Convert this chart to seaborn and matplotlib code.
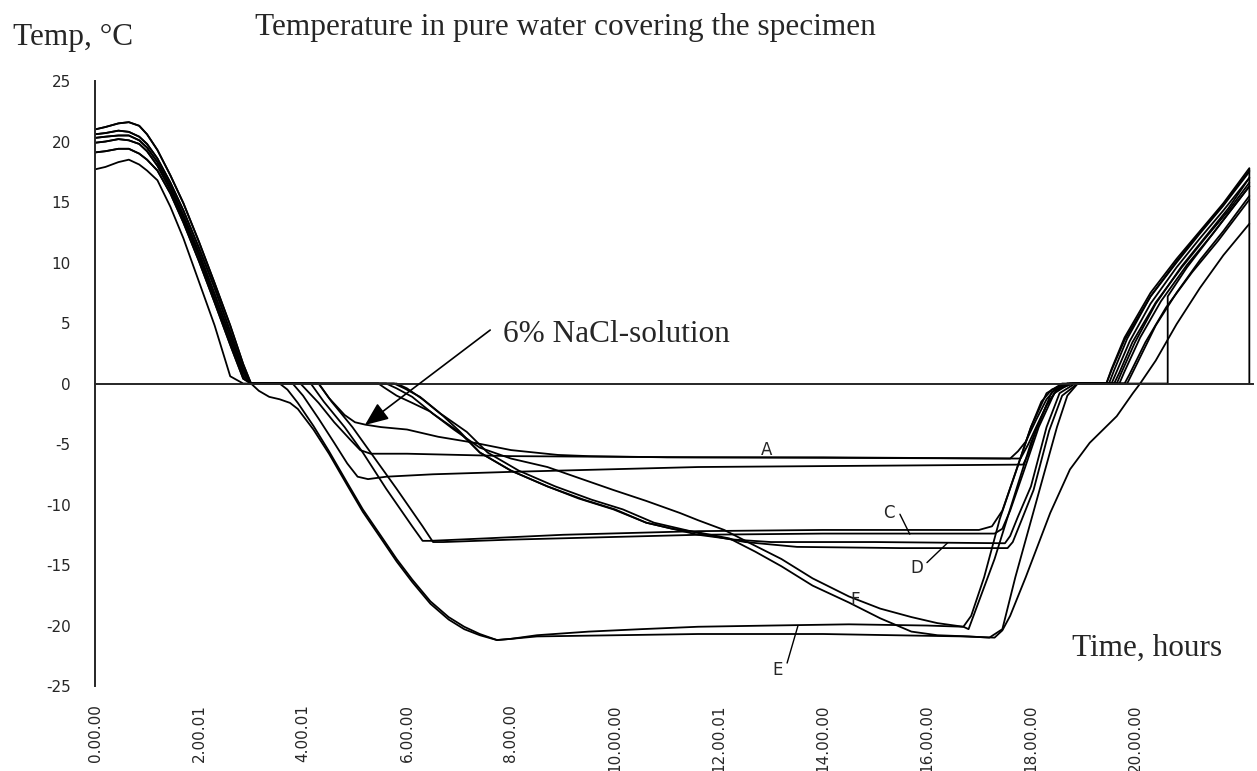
import matplotlib
matplotlib.use("Agg")
import matplotlib.pyplot as plt
import pandas as pd
import seaborn as sns

# --- start of every run (hours, degC): six slightly different warm starts ---
start_h = [0, 0.2, 0.45, 0.65, 0.85, 1.0, 1.2, 1.45, 1.7, 2.0, 2.3, 2.6, 2.85, 3.0]
s1_t = [21.0, 21.2, 21.5, 21.6, 21.3, 20.6, 19.3, 17.2, 14.9, 11.7, 8.3, 4.8, 1.6, 0.0]
s2_t = [20.6, 20.7, 20.9, 20.8, 20.4, 19.8, 18.6, 16.6, 14.3, 11.2, 7.9, 4.3, 1.2, 0.0]
s3_t = [20.3, 20.4, 20.5, 20.5, 20.1, 19.5, 18.3, 16.3, 13.9, 10.8, 7.4, 3.9, 0.9, 0.0]
s4_t = [19.9, 20.0, 20.2, 20.1, 19.8, 19.2, 18.0, 16.0, 13.6, 10.5, 7.0, 3.5, 0.6, 0.0]
s5_t = [19.1, 19.2, 19.4, 19.4, 19.0, 18.5, 17.6, 15.7, 13.3, 10.1, 6.7, 3.2, 0.4, 0.0]
s6_t = [17.7, 17.9, 18.3, 18.5, 18.1, 17.6, 16.8, 14.6, 12.0, 8.4, 4.8, 0.6, 0.0, 0.0]

# --- rest of each run after the first zero crossing ---
a1_h = [4.3, 4.5, 4.8, 5.0, 5.2, 5.5, 6.0, 6.6, 7.3, 8.0, 8.9, 9.5, 11.0, 14.0, 17.6, 17.75, 17.9,
        18.1, 18.3, 18.5, 18.75, 19.45, 19.55, 19.8, 20.3, 20.8, 21.25, 21.7, 22.2, 22.2]
a1_t = [0.0, -1.2, -2.6, -3.2, -3.4, -3.6, -3.8, -4.4, -4.9, -5.5, -5.9, -6.0, -6.1, -6.1, -6.2, -5.6, -4.8,
        -3.0, -1.3, -0.3, 0.0, 0.0, 1.2, 3.8, 7.5, 10.3, 12.6, 14.9, 17.8, 0.0]

a2_h = [3.95, 4.3, 4.6, 4.9, 5.1, 5.3, 6.0, 7.0, 8.0, 11.6, 17.8, 17.95, 18.1, 18.3, 18.5, 18.8,
        19.55, 19.65, 19.9, 20.3, 20.8, 21.25, 21.7, 22.2]
a2_t = [0.0, -1.6, -3.2, -4.6, -5.5, -5.8, -5.8, -5.9, -6.0, -6.1, -6.2, -5.0, -3.6, -1.8, -0.5, 0.0,
        0.0, 1.0, 3.5, 6.6, 9.6, 12.0, 14.3, 17.0]

b_h = [3.8, 4.0, 4.3, 4.6, 4.85, 5.05, 5.25, 5.6, 6.5, 8.0, 11.6, 17.85, 17.95, 18.1, 18.3, 18.5, 18.8,
       19.7, 19.8, 20.1, 20.5, 21.0, 21.5, 22.2]
b_t = [0.0, -1.0, -2.9, -4.9, -6.6, -7.7, -7.9, -7.7, -7.5, -7.3, -6.9, -6.7, -5.8, -3.8, -1.8, -0.5, 0.0,
       0.0, 1.0, 3.8, 6.8, 9.8, 12.4, 16.3]

c1_h = [4.15, 4.4, 4.8, 5.15, 5.6, 6.1, 6.3, 6.45, 7.5, 9.0, 11.6, 14.0, 17.0, 17.25, 17.45, 17.7,
        18.0, 18.3, 18.6, 19.45, 19.55, 19.8, 20.3, 20.8, 21.25, 21.7, 22.2]
c1_t = [0.0, -1.5, -3.6, -5.7, -8.7, -11.8, -13.0, -13.0, -12.8, -12.5, -12.2, -12.1, -12.1, -11.8, -10.5, -7.4,
        -3.6, -0.8, 0.0, 0.0, 1.1, 3.6, 7.2, 10.0, 12.4, 14.7, 17.5]

c2_h = [4.3, 4.55, 4.95, 5.3, 5.8, 6.3, 6.5, 6.7, 8.0, 11.6, 14.0, 17.3, 17.45, 17.6, 17.85, 18.15,
        18.45, 18.75, 19.6, 19.7, 19.95, 20.4, 20.9, 21.35, 21.8, 22.2]
c2_t = [0.0, -1.5, -3.6, -5.7, -8.7, -11.8, -13.1, -13.1, -12.9, -12.5, -12.4, -12.4, -12.0, -10.5, -7.4, -3.6,
        -0.8, 0.0, 0.0, 0.9, 3.4, 6.7, 9.6, 12.0, 14.3, 16.6]

d1_h = [5.6, 5.8, 6.1, 6.5, 7.0, 7.4, 8.0, 8.7, 9.4, 10.0, 10.6, 11.2, 11.6, 12.3, 13.0, 15.0, 17.5,
        17.6, 17.75, 18.0, 18.3, 18.55, 18.85, 19.8, 19.9, 20.2, 20.6, 21.1, 21.6, 22.2]
d1_t = [0.0, -0.4, -1.1, -2.5, -4.0, -5.7, -7.2, -8.5, -9.6, -10.4, -11.5, -12.1, -12.5, -12.9, -13.1, -13.1, -13.2,
        -12.6, -11.0, -8.5, -3.6, -0.8, 0.0, 0.0, 0.8, 3.4, 6.3, 9.2, 11.8, 15.2]

d2_h = [5.75, 5.95, 6.25, 6.65, 7.15, 7.55, 8.15, 8.85, 9.55, 10.15, 10.75, 11.35, 11.75, 12.5, 13.5, 15.5,
        17.55, 17.65, 17.8, 18.05, 18.35, 18.6, 18.9, 20.55, 20.63, 20.63, 21.0, 21.5, 22.2]
d2_t = [0.0, -0.4, -1.1, -2.5, -4.0, -5.7, -7.2, -8.5, -9.6, -10.4, -11.5, -12.1, -12.5, -13.1, -13.5, -13.6,
        -13.6, -13.1, -11.5, -8.8, -3.9, -1.0, 0.0, 0.0, 0.0, 7.2, 9.6, 12.4, 16.3]

e1_h = [3.55, 3.7, 3.9, 4.2, 4.5, 4.85, 5.15, 5.5, 5.8, 6.1, 6.45, 6.8, 7.1, 7.4, 7.73, 8.0, 8.5, 9.5,
        10.5, 11.6, 13.0, 14.5, 16.0, 16.7, 16.85, 17.1, 17.4, 17.7, 18.0, 18.2, 18.4, 18.7, 19.5, 19.6,
        19.85, 20.3, 20.8, 21.25, 21.7, 22.2]
e1_t = [0.0, -0.5, -1.6, -3.5, -5.6, -8.2, -10.4, -12.6, -14.5, -16.2, -18.0, -19.3, -20.1, -20.7, -21.2, -21.1, -20.8, -20.5,
        -20.3, -20.1, -20.0, -19.9, -20.0, -20.1, -19.2, -16.0, -11.2, -7.4, -3.6, -1.5, -0.5, 0.0, 0.0, 1.1,
        3.7, 7.2, 10.1, 12.5, 14.8, 17.6]

e2_h = [3.15, 3.35, 3.55, 3.75, 3.9, 4.2, 4.5, 4.85, 5.15, 5.5, 5.8, 6.1, 6.45, 6.8, 7.1, 7.4, 7.73, 8.0,
        8.5, 11.6, 14.0, 16.7, 17.3, 17.45, 17.6, 17.9, 18.37, 18.75, 19.13, 19.65, 19.96, 20.1, 20.4,
        20.8, 21.25, 21.7, 22.2]
e2_t = [-0.6, -1.1, -1.3, -1.6, -2.1, -3.8, -5.8, -8.4, -10.6, -12.8, -14.7, -16.4, -18.2, -19.5, -20.3, -20.8, -21.2, -21.1,
        -20.9, -20.7, -20.7, -20.9, -21.0, -20.4, -19.2, -16.0, -10.7, -7.1, -4.9, -2.7, -0.8, 0.0, 1.9,
        4.9, 7.9, 10.6, 13.2]

f1_h = [5.45, 5.55, 5.8, 6.1, 6.44, 6.9, 7.4, 8.0, 8.7, 9.3, 9.97, 10.6, 11.25, 11.6, 12.1, 12.6, 13.2,
        13.8, 14.5, 15.1, 15.7, 16.2, 16.7, 16.8, 17.3, 17.7, 18.0, 18.4, 18.7, 19.65, 19.75, 20.0, 20.4,
        20.9, 21.35, 21.8, 22.2]
f1_t = [0.0, -0.3, -1.0, -1.6, -2.3, -3.8, -5.3, -6.2, -6.9, -7.8, -8.8, -9.7, -10.7, -11.3, -12.1, -13.2, -14.5,
        -16.1, -17.6, -18.6, -19.3, -19.8, -20.1, -20.3, -14.5, -9.0, -4.9, -0.7, 0.0, 0.0, 1.0, 3.4, 6.6,
        9.7, 12.1, 14.5, 17.0]

f2_h = [5.8, 6.0, 6.3, 6.7, 7.0, 7.4, 8.0, 8.7, 9.3, 9.97, 10.6, 11.1, 11.6, 12.2, 12.7, 13.2, 13.8, 14.5,
        15.1, 15.7, 16.2, 16.8, 17.2, 17.45, 17.7, 18.1, 18.5, 18.7, 18.9, 19.85, 20.0, 20.4, 20.8, 21.25,
        21.7, 22.2]
f2_t = [0.0, -0.4, -1.3, -2.7, -3.9, -5.7, -7.2, -8.5, -9.5, -10.4, -11.5, -12.0, -12.3, -12.8, -13.9, -15.1, -16.7, -18.1,
        -19.4, -20.5, -20.8, -20.9, -21.0, -20.3, -16.0, -9.8, -3.6, -1.0, 0.0, 0.0, 1.3, 4.8, 7.5, 10.2,
        12.6, 15.5]

runs = {
    "A1": (s3_t, a1_h, a1_t), "A2": (s2_t, a2_h, a2_t), "B": (s4_t, b_h, b_t),
    "C1": (s1_t, c1_h, c1_t), "C2": (s5_t, c2_h, c2_t), "D1": (s3_t, d1_h, d1_t),
    "D2": (s1_t, d2_h, d2_t), "E1": (s2_t, e1_h, e1_t), "E2": (s6_t, e2_h, e2_t),
    "F1": (s4_t, f1_h, f1_t), "F2": (s5_t, f2_h, f2_t),
}

frames = []
for name, (st, rh, rt) in runs.items():
    frames.append(pd.DataFrame({"hours": start_h + rh, "temp": st + rt, "run": name}))
df = pd.concat(frames, ignore_index=True)

y_ticks = [-25, -20, -15, -10, -5, 0, 5, 10, 15, 20, 25]
label_hours = [0, 2, 4, 6, 8, 10, 12, 14, 16, 18, 20]
time_labels = ["0.00.00", "2.00.01", "4.00.01", "6.00.00", "8.00.00", "10.00.00",
               "12.00.01", "14.00.00", "16.00.00", "18.00.00", "20.00.00"]
zero_ticks = [2, 4, 6, 8, 10, 12, 14, 16, 18, 20, 22]

sns.set_style("white")
plt.rcParams["font.family"] = ["DejaVu Sans"]
plt.rcParams["axes.unicode_minus"] = False

fig = plt.figure(figsize=(12.57, 7.71), dpi=100)
ax = fig.add_axes([0.0756, 0.1102, 0.9212, 0.7847])

sns.lineplot(data=df, x="hours", y="temp", units="run", estimator=None, sort=False,
             color="black", linewidth=1.3, ax=ax)

ax.set_xlim(0, 22.27)
ax.set_ylim(-25, 25)
ax.set(xlabel="", ylabel="")
for s in ["top", "right"]:
    ax.spines[s].set_visible(False)
ax.spines["left"].set_linewidth(1.4)
ax.spines["bottom"].set_position(("data", 0))
ax.spines["bottom"].set_linewidth(1.4)

ax.set_yticks(y_ticks)
ax.tick_params(axis="y", direction="inout", length=13, width=1.3, labelsize=11, pad=11)
ax.set_xticks(zero_ticks)
ax.tick_params(axis="x", direction="inout", length=11, width=1.3, labelbottom=False)

sec = ax.secondary_xaxis("bottom")
sec.spines["bottom"].set_visible(False)
sec.set_xticks(label_hours, labels=time_labels)
sec.tick_params(axis="x", length=0, pad=13, labelsize=11, labelrotation=90)

serif = "Liberation Serif"
fig.text(0.0103, 0.9416, "Temp, \u00b0C", family=serif, fontsize=22.5, va="baseline")
fig.text(0.2029, 0.9546, "Temperature in pure water covering the specimen",
         family=serif, fontsize=22.5, va="baseline")
ax.text(18.79, -22.5, "Time, hours", family=serif, fontsize=22.5, va="baseline")

ax.annotate("", xy=(5.19, -3.43), xytext=(7.6, 4.42),
            arrowprops=dict(arrowstyle="-|>,head_length=0.6,head_width=0.25",
                            mutation_scale=24, color="black", lw=1.2, shrinkA=0, shrinkB=0))
ax.text(7.85, 3.43, "6% NaCl-solution", family=serif, fontsize=22.5, va="baseline")

# curve letters
ax.text(12.92, -6.25, "A", fontsize=12, ha="center", va="bottom")
ax.text(14.62, -17.9, "F", fontsize=12, ha="center", va="center")
for letter, txt_xy, end_xy, start_xy in [
    ("C", (15.27, -10.7), (15.67, -12.45), (15.48, -10.8)),
    ("D", (15.81, -15.25), (16.4, -13.15), (16.0, -14.8)),
    ("E", (13.12, -23.7), (13.52, -20.0), (13.31, -23.1)),
]:
    ax.text(*txt_xy, letter, fontsize=12, ha="center", va="center")
    ax.annotate("", xy=end_xy, xytext=start_xy,
                arrowprops=dict(arrowstyle="-", color="black", lw=1.0, shrinkA=0, shrinkB=0))

fig.savefig("out.png", dpi=100, facecolor="white")
